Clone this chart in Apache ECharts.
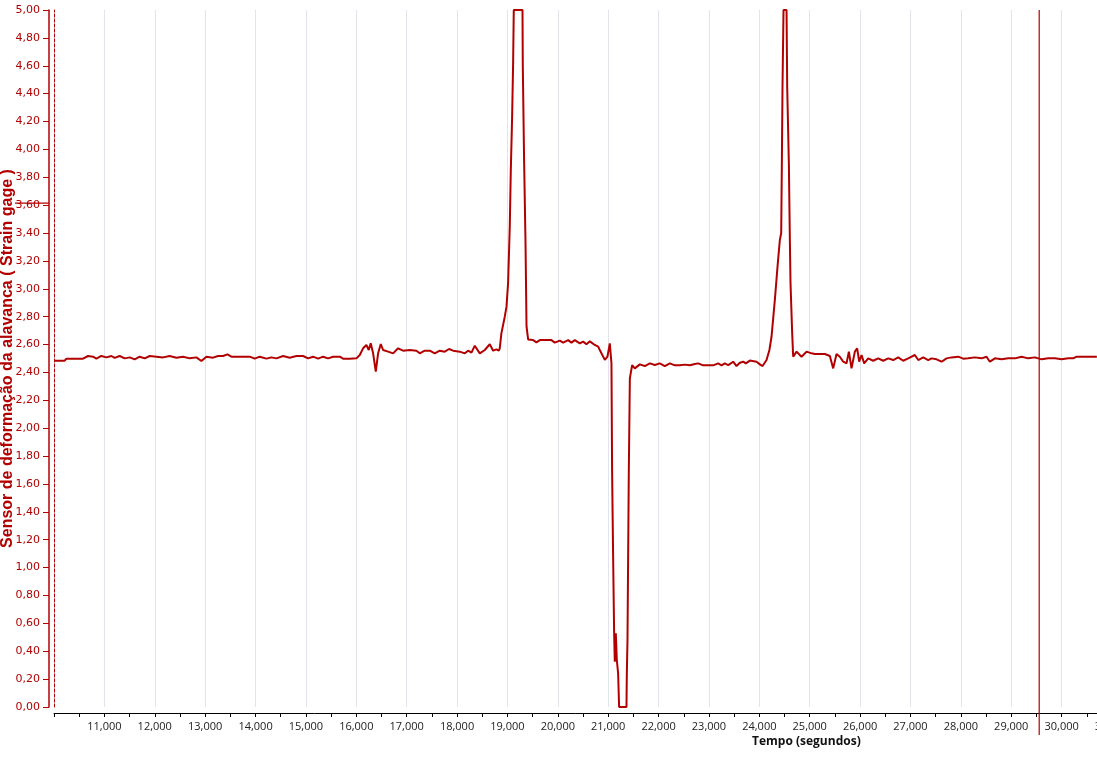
<!DOCTYPE html>
<html>
<head>
<meta charset="utf-8">
<script src="https://cdn.jsdelivr.net/npm/echarts@6/dist/echarts.min.js"></script>
<style>
  html, body { margin: 0; padding: 0; background: #fff; }
  #chart { width: 1097px; height: 757px; }
</style>
</head>
<body>
<div id="chart"></div>
<script>
// tempo (s) e leitura do strain gage
const tempo = [
  10000, 10212, 10246, 10576, 10676, 10775, 10841, 10940, 11040, 11139,
  11205, 11304, 11404, 11503, 11602, 11701, 11801, 11900, 12032, 12165,
  12297, 12429, 12562, 12694, 12826, 12926, 13025, 13157, 13257, 13356,
  13442, 13521, 13753, 13885, 13985, 14084, 14216, 14315, 14416, 14547,
  14679, 14812, 14944, 15043, 15143, 15242, 15341, 15440, 15540, 15672,
  15738, 15871, 16003, 16069, 16135, 16201, 16248, 16287, 16334, 16387,
  16433, 16486, 16532, 16631, 16731, 16830, 16929, 17062, 17095, 17194,
  17260, 17359, 17459, 17558, 17657, 17756, 17842, 17922, 18054, 18154,
  18220, 18286, 18352, 18451, 18551, 18650, 18716, 18782, 18829, 18848,
  18880, 18947, 18981, 19013, 19047, 19067, 19093, 19113, 19126, 19299,
  19305, 19331, 19359, 19379, 19411, 19510, 19576, 19643, 19775, 19874,
  19940, 20040, 20106, 20205, 20271, 20337, 20437, 20503, 20569, 20635,
  20734, 20801, 20833, 20933, 20985, 21032, 21065, 21078, 21098, 21118,
  21131, 21151, 21171, 21197, 21217, 21363, 21370, 21383, 21396, 21409,
  21430, 21475, 21528, 21562, 21628, 21727, 21827, 21926, 22025, 22124,
  22224, 22323, 22422, 22521, 22621, 22720, 22786, 22886, 22985, 23084,
  23183, 23250, 23316, 23382, 23481, 23547, 23614, 23680, 23733, 23812,
  23944, 24011, 24064, 24143, 24200, 24242, 24308, 24361, 24407, 24434,
  24447, 24460, 24480, 24540, 24553, 24586, 24606, 24619, 24652, 24672,
  24739, 24837, 24871, 24937, 25036, 25102, 25301, 25400, 25466, 25532,
  25598, 25665, 25731, 25777, 25830, 25896, 25942, 25982, 26029, 26081,
  26161, 26260, 26359, 26459, 26558, 26657, 26757, 26856, 26955, 27087,
  27154, 27253, 27352, 27418, 27518, 27617, 27716, 27815, 27948, 28047,
  28146, 28279, 28411, 28510, 28576, 28676, 28808, 28940, 29073, 29205,
  29338, 29470, 29602, 29735, 29867, 30000, 30132, 30231, 30297, 30397,
  30700
];
const sensor = [
  2.484, 2.484, 2.499, 2.499, 2.518, 2.513, 2.499, 2.518, 2.508, 2.518,
  2.504, 2.518, 2.501, 2.508, 2.494, 2.513, 2.501, 2.518, 2.513, 2.508,
  2.518, 2.506, 2.513, 2.501, 2.508, 2.482, 2.513, 2.506, 2.518, 2.518,
  2.530, 2.513, 2.513, 2.513, 2.499, 2.513, 2.499, 2.508, 2.501, 2.518,
  2.506, 2.518, 2.518, 2.501, 2.513, 2.499, 2.513, 2.501, 2.513, 2.513,
  2.499, 2.499, 2.501, 2.525, 2.573, 2.597, 2.561, 2.609, 2.537, 2.406,
  2.537, 2.604, 2.561, 2.549, 2.537, 2.573, 2.556, 2.561, 2.568, 2.556,
  2.537, 2.556, 2.556, 2.537, 2.556, 2.549, 2.568, 2.556, 2.549, 2.537,
  2.556, 2.542, 2.592, 2.537, 2.561, 2.602, 2.556, 2.566, 2.556, 2.573,
  2.68, 2.80, 2.87, 3.04, 3.45, 3.85, 4.23, 4.62, 5.00, 5.00,
  4.60, 3.92, 3.33, 2.73, 2.637, 2.632, 2.616, 2.632, 2.632, 2.632,
  2.614, 2.628, 2.614, 2.632, 2.614, 2.632, 2.609, 2.621, 2.602, 2.623,
  2.597, 2.585, 2.561, 2.49, 2.513, 2.609, 2.465, 1.676, 1.079, 0.528,
  0.325, 0.528, 0.337, 0.242, 0.0, 0.0, 0.24, 0.48, 1.08, 1.68,
  2.358, 2.453, 2.429, 2.437, 2.458, 2.446, 2.465, 2.453, 2.465, 2.446,
  2.465, 2.451, 2.451, 2.456, 2.451, 2.460, 2.465, 2.451, 2.451, 2.451,
  2.465, 2.451, 2.465, 2.453, 2.477, 2.446, 2.470, 2.477, 2.465, 2.485,
  2.477, 2.458, 2.446, 2.489, 2.561, 2.656, 2.920, 3.159, 3.35, 3.40,
  3.90, 4.45, 5.0, 5.0, 4.45, 3.90, 3.35, 3.04, 2.68, 2.513,
  2.549, 2.513, 2.518, 2.549, 2.537, 2.532, 2.532, 2.518, 2.429, 2.532,
  2.513, 2.477, 2.465, 2.549, 2.429, 2.549, 2.573, 2.477, 2.525, 2.465,
  2.501, 2.484, 2.501, 2.484, 2.501, 2.489, 2.508, 2.484, 2.501, 2.525,
  2.489, 2.508, 2.489, 2.501, 2.494, 2.477, 2.501, 2.508, 2.513, 2.499,
  2.501, 2.508, 2.501, 2.513, 2.477, 2.501, 2.494, 2.501, 2.501, 2.513,
  2.501, 2.508, 2.494, 2.501, 2.501, 2.494, 2.501, 2.501, 2.513, 2.513,
  2.513
];
// cursores
const cursorTempo = 29555;
const cursorSensor = 3.615;

const RED = "#b20000";
const Y_NAME = "Sensor de deformação da alavanca ( Strain gage )";

const chart = echarts.init(document.getElementById("chart"));

chart.setOption({
  animation: false,
  backgroundColor: "#fff",
  title: {
    text: "Tempo (segundos)",
    left: 752,
    top: 736,
    padding: 0,
    textStyle: { fontFamily: "Open Sans", fontSize: 12, fontWeight: "bold", color: "#111" }
  },
  grid: { left: 54, top: 10, right: -15, bottom: 50, outerBoundsMode: "none", containLabel: false },
  xAxis: {
    type: "value",
    min: 10000,
    max: 31000,
    interval: 1000,
    offset: 6,
    axisLine: { show: true, onZero: false, lineStyle: { color: "#000", width: 1 } },
    axisTick: { show: true, length: 4, lineStyle: { color: "#000" } },
    minorTick: { show: true, splitNumber: 2, length: 4, lineStyle: { color: "#000" } },
    axisLabel: {
      showMinLabel: false,
      margin: 8,
      color: "#222",
      fontFamily: "Open Sans",
      fontSize: 11,
      formatter: (v) => (v / 1000).toFixed(3).replace(".", ",")
    },
    splitLine: { show: true, lineStyle: { color: "#e3e3ec", width: 1 } }
  },
  yAxis: [
    {
      type: "value",
      min: 0,
      max: 5,
      interval: 0.2,
      offset: 5,
      axisLine: { show: true, lineStyle: { color: RED, width: 1.5 } },
      axisTick: { show: true, length: 6, lineStyle: { color: RED } },
      axisLabel: {
        margin: 9,
        color: RED,
        fontFamily: "DejaVu Sans",
        fontSize: 11,
        formatter: (v) => v.toFixed(2).replace(".", ",")
      },
      splitLine: { show: false }
    },
    {
      type: "value",
      min: 0,
      max: 5,
      position: "left",
      offset: 0,
      axisLine: { show: true, lineStyle: { color: RED, width: 1, type: [3, 2] } },
      axisTick: { show: false },
      axisLabel: { show: false },
      splitLine: { show: false }
    }
  ],
  series: [
    {
      type: "line",
      data: tempo.map((t, i) => [t, sensor[i]]),
      showSymbol: false,
      symbol: "none",
      lineStyle: { color: RED, width: 2 },
      clip: true
    }
  ]
});

// nome do eixo y e linhas de cursor
const yTop = chart.convertToPixel({ yAxisIndex: 0 }, 5);
const yBottom = chart.convertToPixel({ yAxisIndex: 0 }, 0);
const cx = chart.convertToPixel({ xAxisIndex: 0 }, cursorTempo);
const cy = chart.convertToPixel({ yAxisIndex: 0 }, cursorSensor);
chart.setOption({
  graphic: [
    {
      type: "text",
      x: 8,
      y: (yTop + yBottom) / 2,
      rotation: Math.PI / 2,
      style: {
        text: Y_NAME,
        align: "center",
        verticalAlign: "middle",
        fill: RED,
        font: "bold 16px 'Liberation Sans'"
      },
      z: 90
    },
    {
      type: "line",
      shape: { x1: cx, y1: yTop, x2: cx, y2: yBottom + 28 },
      style: { stroke: RED, lineWidth: 1.2 },
      z: 100
    },
    {
      type: "line",
      shape: { x1: 15, y1: cy, x2: 49, y2: cy },
      style: { stroke: RED, lineWidth: 1.2 },
      z: 100
    }
  ]
});
</script>
</body>
</html>
